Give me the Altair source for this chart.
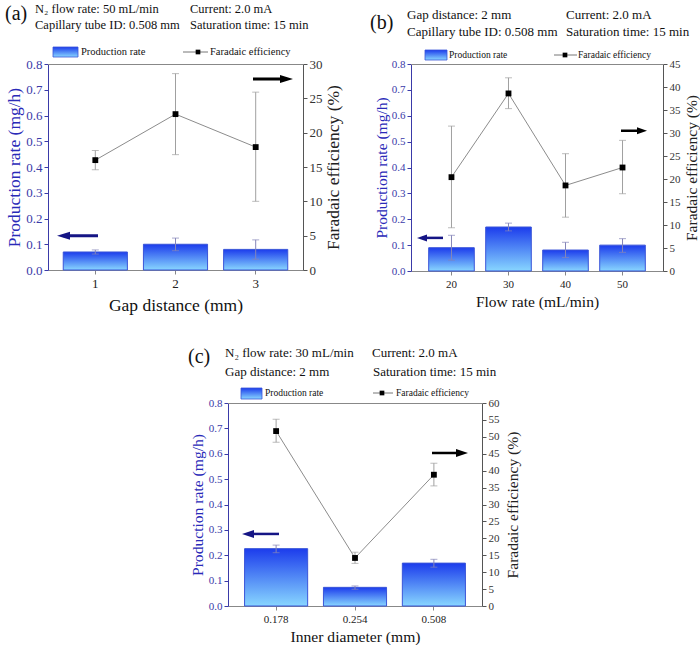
import altair as alt
import pandas as pd

FONT = "Liberation Serif"

# ---------------- data ----------------
a_cats = ["1", "2", "3"]
a_rate = [0.070, 0.100, 0.080]
a_rate_lo = [0.062, 0.075, 0.042]
a_rate_hi = [0.078, 0.124, 0.117]
a_fe = [16.0, 22.7, 17.9]
a_fe_lo = [14.6, 16.8, 10.0]
a_fe_hi = [17.4, 28.6, 25.9]

b_cats = ["20", "30", "40", "50"]
b_rate = [0.090, 0.170, 0.081, 0.100]
b_rate_lo = [0.042, 0.155, 0.052, 0.072]
b_rate_hi = [0.138, 0.185, 0.111, 0.125]
b_fe = [20.4, 38.6, 18.6, 22.5]
b_fe_lo = [9.4, 35.3, 11.7, 16.8]
b_fe_hi = [31.5, 42.0, 25.5, 28.4]

c_cats = ["0.178", "0.254", "0.508"]
c_rate = [0.226, 0.0735, 0.169]
c_rate_lo = [0.210, 0.066, 0.153]
c_rate_hi = [0.240, 0.079, 0.184]
c_fe = [51.7, 14.2, 38.8]
c_fe_lo = [48.4, 12.6, 35.5]
c_fe_hi = [55.2, 15.9, 42.2]

rate_ticks = [0.0, 0.1, 0.2, 0.3, 0.4, 0.5, 0.6, 0.7, 0.8]

ANN = pd.DataFrame({"k": [0]})

BAR_FILL = alt.LinearGradient(
    gradient="linear",
    stops=[alt.GradientStop(color="#1c3cec", offset=0),
           alt.GradientStop(color="#88d6ff", offset=1)],
    x1=0, x2=0, y1=0, y2=1,
)
LEFT_BLUE = "#3a3aa8"
TITLE_BLUE = "#2a2ab8"
NAVY = "#151585"


def text_mark(t, x, y, size, color="#111111", align="left"):
    return alt.Chart(ANN).mark_text(
        text=t, align=align, baseline="middle", font=FONT, fontSize=size, color=color
    ).encode(x=alt.value(x), y=alt.value(y))


def arrow(x_tip, x_tail, y, color, head_len, head_h, shaft_w):
    d = -1 if x_tip < x_tail else 1
    hc = x_tip - d * head_len / 2.0
    shaft = alt.Chart(ANN).mark_rule(color=color, strokeWidth=shaft_w).encode(
        x=alt.value(hc), x2=alt.value(x_tail), y=alt.value(y))
    r = round(head_h / head_len, 3)
    if d == -1:
        shape = f"M -1 0 L 1 {-r} L 1 {r} Z"
    else:
        shape = f"M 1 0 L -1 {-r} L -1 {r} Z"
    head = alt.Chart(ANN).mark_point(
        shape=shape, size=head_len ** 2, filled=True, color=color, opacity=1, strokeWidth=0
    ).encode(x=alt.value(hc), y=alt.value(y))
    return [shaft, head]


def panel(p):
    W, H = p["w"], p["h"]
    df = pd.DataFrame({
        "cat": p["cats"], "rate": p["rate"], "rlo": p["rlo"], "rhi": p["rhi"],
        "fe": p["fe"], "flo": p["flo"], "fhi": p["fhi"],
    })
    base = alt.Chart(df)
    xscale = alt.Scale(paddingInner=0.2, paddingOuter=p["po"])
    x_axis = alt.Axis(title=p["xtitle"], labelAngle=0, labelFontSize=p["fs_tick"],
                      labelColor="#222222", labelFont=FONT, labelPadding=3,
                      tickSize=4, tickColor="#888888", domainColor="#888888",
                      titleFont=FONT, titleFontSize=p["fs_xt"], titleFontWeight="normal",
                      titleColor="#111111", titlePadding=p["xtp"], grid=False)
    X = alt.X("cat:N", sort=p["cats"], scale=xscale, axis=x_axis)

    l_axis = alt.Axis(values=rate_ticks, format=".1f", orient="left",
                      title="Production rate (mg/h)", labelColor=LEFT_BLUE,
                      labelFontSize=p["fs_tick"], labelFont=FONT, labelPadding=2,
                      tickColor=LEFT_BLUE, domainColor=LEFT_BLUE, tickSize=4,
                      titleFont=FONT, titleFontSize=p["fs_yt"], titleFontWeight="normal",
                      titleColor=TITLE_BLUE, titlePadding=p["ltp"], grid=False)
    lscale = alt.Scale(domain=[0, 0.8], nice=False)
    fe_vals = list(range(0, p["fe_max"] + 1, 5))
    r_axis = alt.Axis(values=fe_vals, orient="right",
                      title="Faradaic efficiency (%)", labelColor="#333333",
                      labelFontSize=p["fs_tick"], labelFont=FONT, labelPadding=2,
                      tickColor="#555555", domainColor="#555555", tickSize=4,
                      titleFont=FONT, titleFontSize=p["fs_yt"], titleFontWeight="normal",
                      titleColor="#222222", titlePadding=p["rtp"], titleAngle=270,
                      titleBaseline="top", grid=False)
    rscale = alt.Scale(domain=[0, p["fe_max"]], nice=False)

    bars = base.mark_bar(fill=BAR_FILL, stroke="#3a55d8", strokeWidth=1).encode(
        x=X, y=alt.Y("rate:Q", scale=lscale, axis=l_axis))
    rerr = base.mark_rule(color="#8585b8", strokeWidth=1).encode(
        x=X, y=alt.Y("rlo:Q", scale=lscale, axis=l_axis), y2="rhi:Q")
    rcap1 = base.mark_tick(color="#8585b8", size=7, thickness=1, orient="horizontal").encode(
        x=X, y=alt.Y("rlo:Q", scale=lscale, axis=l_axis))
    rcap2 = base.mark_tick(color="#8585b8", size=7, thickness=1, orient="horizontal").encode(
        x=X, y=alt.Y("rhi:Q", scale=lscale, axis=l_axis))

    top_rule = alt.Chart(ANN).mark_rule(color="#888888", strokeWidth=1).encode(
        x=alt.value(0), x2=alt.value(W), y=alt.value(0.5))

    left_layers = [bars, rerr, rcap1, rcap2, top_rule]

    left_layers += arrow(p["la"][0], p["la"][1], H * (1 - p["la"][2] / 0.8), NAVY,
                         p["ah"][0], p["ah"][1], p["ah"][2])
    left_layers += arrow(p["ra"][1], p["ra"][0], H * (1 - p["ra"][2] / 0.8), "#000000",
                         p["ah"][0], p["ah"][1], p["ah"][2])

    for t, x, y in p["head"]:
        left_layers.append(text_mark(t, x, y, p["fs_head"]))
    lx, ly = p["label"]
    left_layers.append(text_mark(p["lab"], lx, ly, p["fs_lab"]))

    lg = p["leg"]
    left_layers.append(alt.Chart(ANN).mark_rect(fill=BAR_FILL, stroke="#3a55d8", strokeWidth=0.8).encode(
        x=alt.value(lg["rx"][0]), x2=alt.value(lg["rx"][1]),
        y=alt.value(lg["ry"][0]), y2=alt.value(lg["ry"][1])))
    left_layers.append(text_mark("Production rate", lg["tx1"], lg["y"], p["fs_leg"]))
    left_layers.append(alt.Chart(ANN).mark_rule(color="#777777", strokeWidth=1).encode(
        x=alt.value(lg["lx"][0]), x2=alt.value(lg["lx"][1]), y=alt.value(lg["y"])))
    left_layers.append(alt.Chart(ANN).mark_point(shape="square", size=22, filled=True,
                                                 color="#000000", opacity=1).encode(
        x=alt.value(lg["mx"]), y=alt.value(lg["y"])))
    left_layers.append(text_mark("Faradaic efficiency", lg["tx2"], lg["y"], p["fs_leg"]))

    line = base.mark_line(color="#8c8c8c", strokeWidth=1).encode(
        x=X, y=alt.Y("fe:Q", scale=rscale, axis=r_axis))
    ferr = base.mark_rule(color="#a0a0a0", strokeWidth=1).encode(
        x=X, y=alt.Y("flo:Q", scale=rscale, axis=r_axis), y2="fhi:Q")
    fcap1 = base.mark_tick(color="#a0a0a0", size=7, thickness=1, orient="horizontal").encode(
        x=X, y=alt.Y("flo:Q", scale=rscale, axis=r_axis))
    fcap2 = base.mark_tick(color="#a0a0a0", size=7, thickness=1, orient="horizontal").encode(
        x=X, y=alt.Y("fhi:Q", scale=rscale, axis=r_axis))
    pts = base.mark_point(shape="square", size=34, filled=True, color="#000000", opacity=1).encode(
        x=X, y=alt.Y("fe:Q", scale=rscale, axis=r_axis))

    left = alt.layer(*left_layers)
    right = alt.layer(line, ferr, fcap1, fcap2, pts)
    return alt.layer(left, right).resolve_scale(y="independent").properties(width=W, height=H)


PA = dict(cats=a_cats, rate=a_rate, rlo=a_rate_lo, rhi=a_rate_hi, fe=a_fe, flo=a_fe_lo, fhi=a_fe_hi,
          w=255, h=206, po=0.19, fe_max=30, xtitle="Gap distance (mm)",
          fs_tick=13, fs_xt=17.5, fs_yt=17.5, fs_head=12.5, fs_leg=10.5, fs_lab=20,
          xtp=6, ltp=2, rtp=2,
          la=(9, 50, 0.133), ra=(205, 245, 0.742), ah=(13, 8, 3),
          head=[("N₂ flow rate: 50 mL/min", -13, -55), ("Current: 2.0 mA", 142, -55),
                ("Capillary tube ID: 0.508 mm", -13, -39), ("Saturation time: 15 min", 142, -39)],
          lab="(a)", label=(-43, -50),
          leg=dict(rx=(5, 30), ry=(-17, -7), y=-12, tx1=33, lx=(135, 160), mx=150, tx2=162))

PB = dict(cats=b_cats, rate=b_rate, rlo=b_rate_lo, rhi=b_rate_hi, fe=b_fe, flo=b_fe_lo, fhi=b_fe_hi,
          w=252, h=207, po=0.31, fe_max=45, xtitle="Flow rate (mL/min)",
          fs_tick=11, fs_xt=15.5, fs_yt=15.5, fs_head=13, fs_leg=9.5, fs_lab=20,
          xtp=5, ltp=2, rtp=4,
          la=(6, 32, 0.128), ra=(210, 236, 0.542), ah=(10, 7, 2.5),
          head=[("Gap distance: 2 mm", -4, -49), ("Current: 2.0 mA", 155, -49),
                ("Capillary tube ID: 0.508 mm", -4, -32), ("Saturation time: 15 min", 155, -32)],
          lab="(b)", label=(-41, -41),
          leg=dict(rx=(14, 36), ry=(-14, -4), y=-9, tx1=38, lx=(143, 166), mx=154, tx2=167))

PC = dict(cats=c_cats, rate=c_rate, rlo=c_rate_lo, rhi=c_rate_hi, fe=c_fe, flo=c_fe_lo, fhi=c_fe_hi,
          w=254, h=203, po=0.21, fe_max=60, xtitle="Inner diameter (mm)",
          fs_tick=11, fs_xt=15.6, fs_yt=15.6, fs_head=13, fs_leg=9.5, fs_lab=20,
          xtp=5, ltp=2.5, rtp=6,
          la=(14, 51, 0.284), ra=(204, 240, 0.603), ah=(12, 8, 2.5),
          head=[("N₂ flow rate: 30 mL/min", -3, -50), ("Current: 2.0 mA", 144, -50),
                ("Gap distance: 2 mm", -3, -31), ("Saturation time: 15 min", 145, -31)],
          lab="(c)", label=(-40, -46),
          leg=dict(rx=(13, 34), ry=(-15, -4), y=-10, tx1=37, lx=(145, 165), mx=154, tx2=168))

a = panel(PA)
b = panel(PB)
c = panel(PC)

spacer = alt.Chart(ANN).mark_point(opacity=0).encode(
    x=alt.value(0), y=alt.value(0)).properties(width=150, height=1)

row1 = alt.hconcat(a, b, spacing=108, bounds="flush")
row2 = alt.hconcat(spacer, c, spacing=30, bounds="flush")
chart = (
    alt.vconcat(row1, row2, spacing=33)
    .properties(padding={"left": 5, "top": 3, "right": 0, "bottom": 0}, background="white")
    .configure(font=FONT)
    .configure_axis(labelFont=FONT, titleFont=FONT)
    .configure_text(font=FONT)
    .configure_view(strokeWidth=0)
)

chart.save("out.html", embed_options={"renderer": "svg", "actions": False})
